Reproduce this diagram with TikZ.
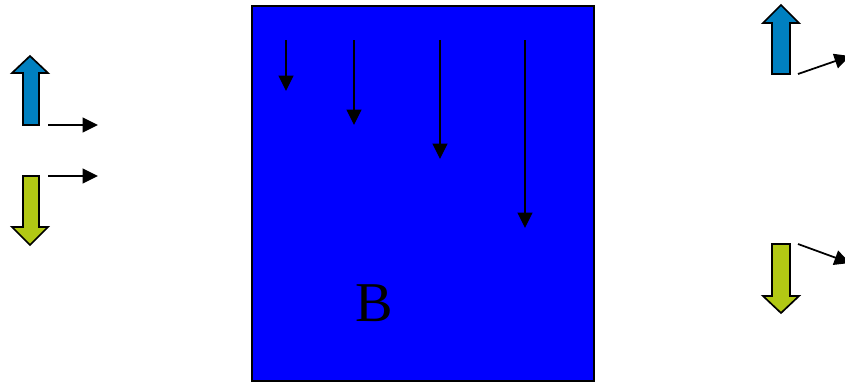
\documentclass[tikz,border=0pt]{standalone}
\usepackage{fontspec}
\setmainfont{Liberation Serif}
\usetikzlibrary{arrows.meta, positioning}

\definecolor{upblue}{RGB}{0,128,192}
\definecolor{downgreen}{RGB}{178,200,20}

\begin{document}
\begin{tikzpicture}[x={(0.02cm,0)}, y={(0,-0.02cm)},
    thin arrow/.style={line width=1pt, -{Triangle[width=3mm,length=3.1mm]}},
    fat arrow/.style={draw=black, line width=0.95pt, line join=miter}]

    % kích thước khung
    \useasboundingbox (0,0) rectangle (845,383);

    % =========================================
    % 1. HÌNH CHỮ NHẬT XANH B
    % =========================================
    \filldraw[fill=blue, draw=black, line width=1pt] (252,6) rectangle (594,381);
    \node[font=\fontsize{32}{36}\selectfont] (labB) at (374,303) {B};

    % các mũi tên đi xuống bên trong
    \coordinate (a1) at (286,40);  \coordinate (b1) at (286,91);
    \coordinate (a2) at (354,40);  \coordinate (b2) at (354,125);
    \coordinate (a3) at (440,40);  \coordinate (b3) at (440,159);
    \coordinate (a4) at (525,40);  \coordinate (b4) at (525,228);
    \foreach \i in {1,...,4}
        \draw[thin arrow] (a\i) -- (b\i);

    % =========================================
    % 2. MŨI TÊN BÊN TRÁI
    % =========================================
    % mũi tên xanh lên
    \filldraw[fat arrow, fill=upblue]
        (23,125) -- (23,73) -- (12,73) -- (30,56) -- (48,73) -- (39,73) -- (39,125) -- cycle;
    % mũi tên xanh lá xuống
    \filldraw[fat arrow, fill=downgreen]
        (23,176) -- (23,227) -- (12,227) -- (30,245) -- (48,227) -- (39,227) -- (39,176) -- cycle;

    \coordinate (l1) at (48,125);  \coordinate (m1) at (98,125);
    \coordinate (l2) at (48,176);  \coordinate (m2) at (98,176);
    \draw[thin arrow] (l1) -- (m1);
    \draw[thin arrow] (l2) -- (m2);

    % =========================================
    % 3. MŨI TÊN BÊN PHẢI
    % =========================================
    \filldraw[fat arrow, fill=upblue]
        (772,74) -- (772,23) -- (763,23) -- (781,5) -- (799,23) -- (790,23) -- (790,74) -- cycle;
    \filldraw[fat arrow, fill=downgreen]
        (772,244) -- (772,296) -- (763,296) -- (781,313) -- (799,296) -- (790,296) -- (790,244) -- cycle;

    \coordinate (r1) at (798,74);   \coordinate (s1) at (850,56);
    \coordinate (r2) at (798,244);  \coordinate (s2) at (850,263);
    \draw[thin arrow] (r1) -- (s1);
    \draw[thin arrow] (r2) -- (s2);

\end{tikzpicture}
\end{document}
